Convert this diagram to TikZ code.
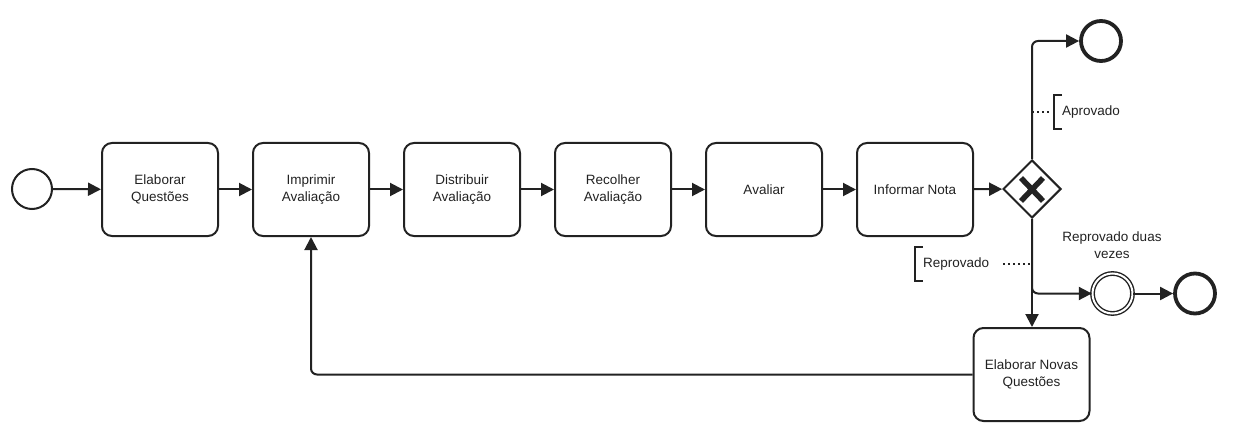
\documentclass[tikz,border=0pt]{standalone}
\usepackage{fontspec}
\setmainfont{Liberation Sans}
\usetikzlibrary{arrows.meta,shapes.geometric,calc}
\definecolor{ink}{HTML}{222222}
\begin{document}
\begin{tikzpicture}[x=1pt,y=-1pt,
  every node/.style={font=\fontsize{13.5}{17}\selectfont, text=ink},
  task/.style={draw=ink, line width=2pt, rounded corners=10pt, minimum width=116pt, minimum height=93pt, align=center, inner sep=2pt},
  startev/.style={draw=ink, circle, line width=2pt, minimum size=40pt, inner sep=0pt},
  endev/.style={draw=ink, circle, line width=3.8pt, minimum size=40pt, inner sep=0pt},
  midev/.style={draw=ink, circle, line width=1.4pt, double=white, double distance=2pt, minimum size=40pt, inner sep=0pt},
  gate/.style={draw=ink, diamond, line width=2pt, minimum size=58pt, inner sep=0pt, aspect=1},
  flow/.style={draw=ink, line width=2pt, rounded corners=6pt, -{Triangle[length=13pt,width=13pt]}},
  assoc/.style={draw=ink, line width=1.6pt, dash pattern=on 2pt off 3pt},
  brk/.style={draw=ink, line width=2pt}
]
\useasboundingbox (0,0) rectangle (1235,441);
\node[startev] (s) at (32,189) {};
\node[task] (t1) at (160,189.5) {Elaborar\\Questões};
\node[task] (t2) at (311,189.5) {Imprimir\\Avaliação};
\node[task] (t3) at (462,189.5) {Distribuir\\Avaliação};
\node[task] (t4) at (613,189.5) {Recolher\\Avaliação};
\node[task] (t5) at (764,189.5) {Avaliar};
\node[task] (t6) at (915,189.5) {Informar Nota};
\node[gate] (gw) at (1032,189) {};
\draw[ink, line width=5.5pt] (1021,178) -- (1043,201) (1043,178) -- (1021,201);
\node[endev] (e1) at (1101,41) {};
\node[midev] (ie) at (1112.5,293.5) {};
\node[endev] (e2) at (1195,293.5) {};
\node[task] (t7) at (1031.5,374.5) {Elaborar Novas\\Questões};
\node[align=center] (lie) at (1112,245) {Reprovado duas\\vezes};

\draw[flow] (s) -- (t1);
\draw[flow] (t1) -- (t2);
\draw[flow] (t2) -- (t3);
\draw[flow] (t3) -- (t4);
\draw[flow] (t4) -- (t5);
\draw[flow] (t5) -- (t6);
\draw[flow] (t6) -- (gw);
\draw[flow] (gw.north) |- (e1.west);
\draw[flow] (gw.south) |- (ie.west);
\draw[flow] (gw.south) -- (gw.south |- t7.north);
\draw[flow] (ie) -- (e2);
\draw[flow] (t7.west) -| (t2.south);

% annotations
\node[anchor=west, inner sep=0pt] (ap) at (1062,112) {Aprovado};
\draw[brk] ($(ap.west)+(0,-17)$) -- ++(-8,0) -- ++(0,34) -- ++(8,0);
\coordinate (apc) at (gw.north |- ap.west);
\draw[assoc] (apc) -- ($(ap.west)+(-12,0)$);
\node[anchor=west, inner sep=0pt] (rp) at (923,264) {Reprovado};
\draw[brk] ($(rp.west)+(0,-17)$) -- ++(-8,0) -- ++(0,34) -- ++(8,0);
\coordinate (rpc) at (gw.south |- rp.west);
\draw[assoc] ($(rp.east)+(14,0)$) -- (rpc);
\end{tikzpicture}
\end{document}
